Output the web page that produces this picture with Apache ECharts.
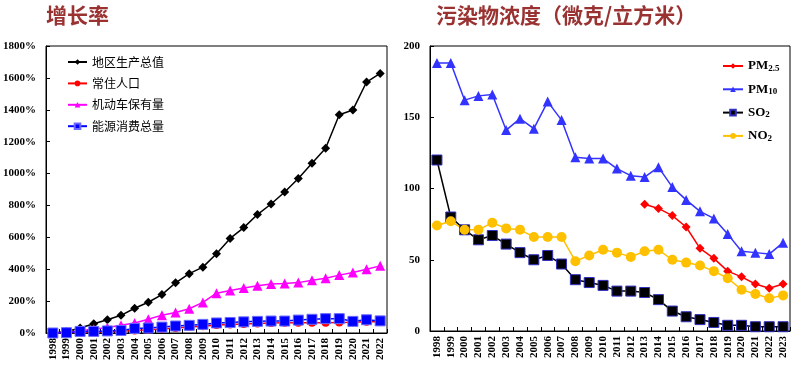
<!DOCTYPE html>
<html><head><meta charset="utf-8">
<script src="https://cdn.jsdelivr.net/npm/echarts@6/dist/echarts.min.js"></script>
<style>html,body{margin:0;padding:0;background:#fff}#c{width:799px;height:374px}</style>
</head><body><div id="c"></div>
<script>
var yearsLeft = ['1998','1999','2000','2001','2002','2003','2004','2005','2006','2007','2008','2009','2010','2011','2012','2013','2014','2015','2016','2017','2018','2019','2020','2021','2022'];
var gdp    = [0, 10, 31, 58, 83, 111, 155, 193, 241, 315, 372, 413, 497, 593, 661, 743, 809, 884, 969, 1065, 1159, 1369, 1399, 1574, 1628];
var pop    = [0, 2, 4, 6, 8, 11, 15, 20, 25, 31, 37, 43, 50, 54, 57, 60, 62, 64, 65, 65, 65, 66, 67, 70, 70];
var veh    = [0, 5, 14, 24, 35, 48, 63, 86, 112, 128, 152, 192, 250, 266, 282, 297, 307, 311, 316, 331, 344, 363, 380, 400, 421];
var energy = [0, 2, 10, 10, 13, 16, 29, 31, 37, 44, 48, 54, 63, 66, 70, 73, 75, 75, 81, 86, 90, 90, 73, 83, 76];

var yearsRight = ['1998','1999','2000','2001','2002','2003','2004','2005','2006','2007','2008','2009','2010','2011','2012','2013','2014','2015','2016','2017','2018','2019','2020','2021','2022','2023'];
var pm25 = [null,null,null,null,null,null,null,null,null,null,null,null,null,null,null, 89, 86, 81, 73, 58, 51, 42, 38, 33, 30, 33];
var pm10 = [188, 188, 162, 165, 166, 141, 149, 142, 161, 148, 122, 121, 121, 114, 109, 108, 115, 101, 92, 84, 79, 68, 56, 55, 54, 62];
var so2  = [120, 80, 71, 64, 67, 61, 55, 50, 53, 47, 36, 34, 32, 28, 28, 27, 22, 14, 10, 8, 6, 4, 4, 3, 3, 3];
var no2  = [74, 77, 71, 71, 76, 72, 71, 66, 66, 66, 49, 53, 57, 55, 52, 56, 57, 50, 48, 46, 42, 37, 29, 26, 23, 25];

var leftNames = ['地区生产总值','常住人口','机动车保有量','能源消费总量'];
var rightNames = ['PM2.5','PM10','SO2','NO2'];
var leftTitle = '增长率';
var rightTitle = '污染物浓度（微克/立方米）';

var serif = '"Liberation Serif","Times New Roman",serif';
var cjk = '"Noto Sans CJK SC",sans-serif';
var titleColor = '#9A3232';

var chart = echarts.init(document.getElementById('c'), null, {renderer:'canvas'});

function xAx(gi, data){
  return {type:'category', gridIndex:gi, data:data, boundaryGap:true,
    axisLine:{show:true, lineStyle:{color:'#000', width:1}},
    axisTick:{show:true, inside:true, length:4, lineStyle:{color:'#000'}},
    axisLabel:{rotate:90, interval:0, margin:5, color:'#000', fontFamily:serif, fontWeight:'bold', fontSize:11},
    splitLine:{show:false}};
}
function yAx(gi, max, interval, fmt){
  return {type:'value', gridIndex:gi, min:0, max:max, interval:interval,
    axisLine:{show:true, lineStyle:{color:'#000', width:1}},
    axisTick:{show:true, inside:true, length:4, lineStyle:{color:'#000'}},
    axisLabel:{formatter:fmt, margin:10, color:'#000', fontFamily:serif, fontWeight:'bold', fontSize:11},
    splitLine:{show:false}};
}
function ln(name, xi, data, color, symbol, size, fill, border){
  return {name:name, type:'line', xAxisIndex:xi, yAxisIndex:xi, data:data,
    symbol:symbol, symbolSize:size, showSymbol:true, connectNulls:false,
    lineStyle:{color:color, width:1.5},
    itemStyle:{color:fill || color, borderColor:border || fill || color, borderWidth:border?1:0},
    animation:false, z: 2};
}

var option = {
  animation:false,
  title:[
    {text:leftTitle, left:46, top:5, padding:0, textStyle:{fontFamily:cjk, fontWeight:'bold', fontSize:21, color:titleColor}},
    {text:rightTitle, left:436, top:5, padding:0, textStyle:{fontFamily:cjk, fontWeight:'bold', fontSize:21, color:titleColor}}
  ],
  grid:[
    {left:45, right:412, top:46, bottom:41, show:true, borderColor:'#000', borderWidth:1, backgroundColor:'transparent'},
    {left:430, right:9, top:46, bottom:43, show:true, borderColor:'#000', borderWidth:1, backgroundColor:'transparent'}
  ],
  xAxis:[xAx(0, yearsLeft), xAx(1, yearsRight)],
  yAxis:[yAx(0, 1800, 200, function(v){return v + '%';}), yAx(1, 200, 50, function(v){return String(v);})],
  legend:[
    {data:leftNames, orient:'vertical', left:67, top:56, padding:0, itemWidth:19, itemHeight:7, itemGap:9.4,
     textStyle:{fontFamily:cjk, fontSize:12, color:'#000', lineHeight:12}},
    {data:rightNames, orient:'vertical', left:722, top:58, padding:0, itemWidth:20, itemHeight:7, itemGap:8.3,
     formatter:function(n){
       var m = {'PM2.5':'{b|PM}{s|2.5}','PM10':'{b|PM}{s|10}','SO2':'{b|SO}{s|2}','NO2':'{b|NO}{s|2}'};
       return m[n];
     },
     textStyle:{rich:{
       b:{fontFamily:serif, fontWeight:'bold', fontSize:13, color:'#000', lineHeight:14},
       s:{fontFamily:serif, fontWeight:'bold', fontSize:9, color:'#000', lineHeight:14, verticalAlign:'bottom', padding:[6,0,0,0]}
     }}}
  ],
  series:[
    ln(leftNames[0], 0, gdp, '#000000', 'diamond', 9),
    ln(leftNames[1], 0, pop, '#FF0000', 'circle', 8),
    ln(leftNames[2], 0, veh, '#FF00FF', 'triangle', 10),
    ln(leftNames[3], 0, energy, '#0000FF', 'rect', 10, '#0000FF', '#6A6AFF'),
    ln(rightNames[0], 1, pm25, '#FF0000', 'diamond', 9),
    ln(rightNames[1], 1, pm10, '#3333FF', 'triangle', 10),
    ln(rightNames[2], 1, so2, '#000000', 'rect', 10, '#000000', '#3030C0'),
    ln(rightNames[3], 1, no2, '#FFC000', 'circle', 10)
  ]
};
chart.setOption(option);
</script></body></html>
